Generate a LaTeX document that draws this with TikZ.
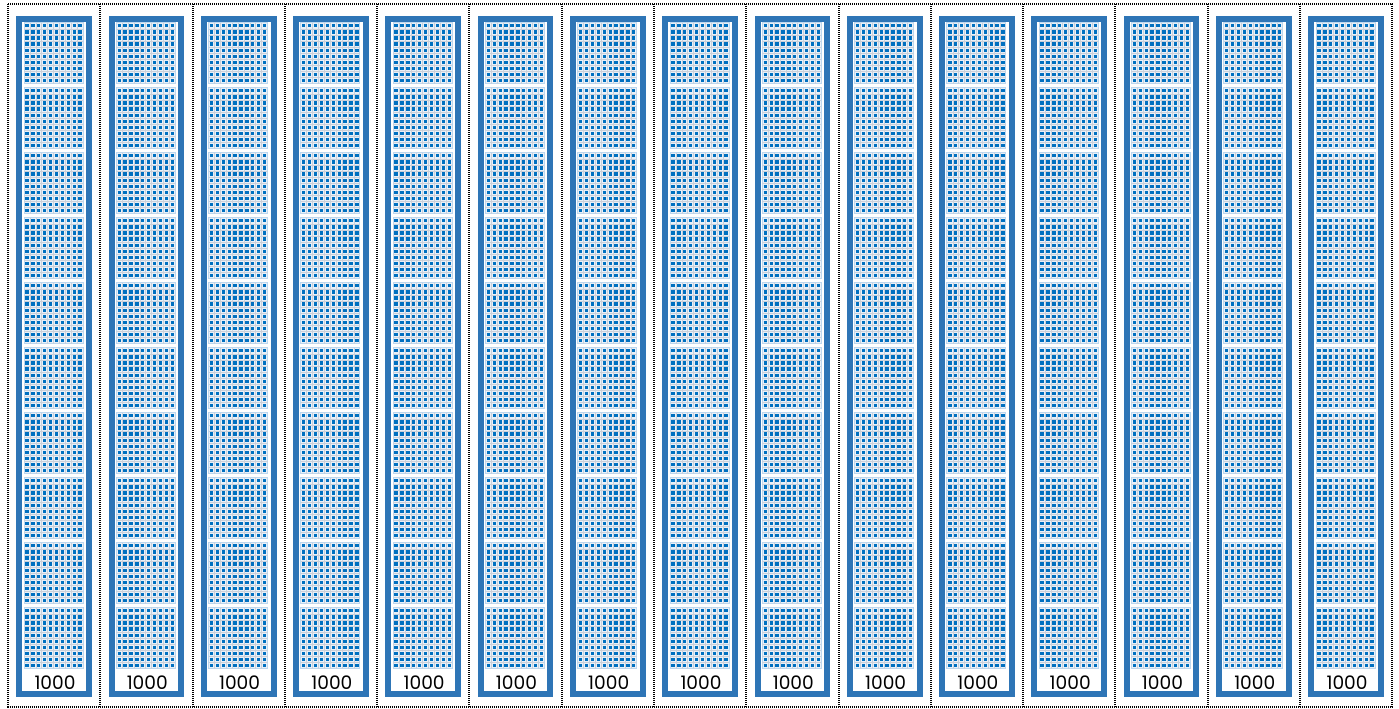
\documentclass[tikz,border=0pt]{standalone}
\usepackage{fontspec}
\setmainfont{Poppins}
\definecolor{framecol}{HTML}{2E75B6}
\definecolor{dotcol}{HTML}{0070C0}
\definecolor{flatbg}{HTML}{E9F0F8}
\definecolor{gridcol}{HTML}{C9D0DA}
\definecolor{flatedge}{HTML}{BDD7EE}
\tikzset{
  cellsep/.style={line width=1pt, dash pattern=on 0.5pt off 0.5pt, black},
  thouframe/.style={draw=framecol, line width=3pt},
  flatbox/.style={fill=flatbg, draw=flatedge, line width=0.5pt},
  gridline/.style={draw=gridcol, line width=0.3pt},
  dotrow/.style={draw=dotcol, line width=1.65pt, dash pattern=on 1.65pt off 1.3pt},
  thoulabel/.style={font=\fontsize{9.3}{10}\selectfont, text=black, inner sep=0pt}
}
\begin{document}
\begin{tikzpicture}[x=0.5pt, y=-0.5pt]
\useasboundingbox (0,0) rectangle (1399,708);
\fill[white] (0,0) rectangle (1399,708);
\foreach \i in {0,...,14}{
  \pgfmathsetmacro{\xc}{8+92.29*\i}
  \foreach \k in {0,...,9}{
    \pgfmathsetmacro{\fy}{22.7+65*\k}
    \begin{scope}[shift={(\xc+16,\fy)}]
      \path[flatbox] (0,0) rectangle (59,61);
      \path[gridline] \foreach \g in {1,...,9}{ (\g*5.9,0) -- (\g*5.9,61) (0,\g*6.1) -- (59,\g*6.1) };
      \foreach \r in {0,...,9}{
        \draw[dotrow] (1.3,{(\r+0.5)*6.1}) -- (59,{(\r+0.5)*6.1});
      }
    \end{scope}
  }
  \draw[thouframe] (\xc+11.3,19) rectangle (\xc+81,694);
  \node[thoulabel] (lab\i) at (\xc+47,682.5) {1000};
}
\draw[cellsep] (8,4) rectangle (1392,706.5);
\foreach \i in {1,...,14}{
  \pgfmathsetmacro{\xs}{8+92.29*\i}
  \draw[cellsep] (\xs,4) -- (\xs,706.5);
}
\end{tikzpicture}
\end{document}
